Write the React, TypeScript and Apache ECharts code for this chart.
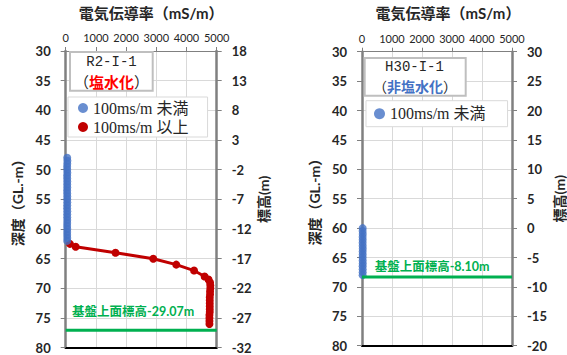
import React, { useEffect, useRef } from "react";
import * as echarts from "echarts";

// ---- data ----
const depthRange = [30, 80];
const elevRangeLeft = [-32, 18];
const elevRangeRight = [-20, 30];
const ecRange = [0, 5000];

const leftBlue = [
  [50, 48], [55, 48.5], [52, 49], [48, 49.5], [50, 50], [53, 50.5], [47, 51], [50, 51.5],
  [52, 52], [49, 52.5], [51, 53], [48, 53.5], [50, 54], [52, 54.5], [49, 55], [51, 55.5],
  [50, 56], [48, 56.5], [52, 57], [50, 57.5], [49, 58], [51, 58.5], [50, 59], [48, 59.5],
  [52, 60], [50, 60.5], [49, 61], [51, 61.5], [50, 62],
];
const leftRed = [
  [140, 62.5], [330, 63], [1650, 64], [2900, 65], [3660, 66], [4250, 67], [4600, 68],
  [4730, 68.5], [4780, 69], [4790, 69.5], [4790, 70], [4780, 70.5], [4780, 71],
  [4770, 71.5], [4770, 72], [4770, 72.5], [4770, 73], [4770, 73.5], [4770, 74],
  [4760, 74.5], [4760, 75], [4760, 75.5], [4760, 76],
];
const rightBlue = [
  [22, 60], [20, 60.5], [24, 61], [21, 61.5], [23, 62], [20, 62.5], [22, 63], [25, 63.5],
  [21, 64], [23, 64.5], [20, 65], [22, 65.5], [24, 66], [21, 66.5], [23, 67], [22, 67.5],
  [20, 68],
];
const leftBaseDepth = 77.07;
const rightBaseDepth = 68.3;
const leftBaseLabel = "基盤上面標高-29.07m";
const rightBaseLabel = "基盤上面標高-8.10m";
const nameLow = "100ms/m 未満";
const nameHigh = "100ms/m 以上";

const BLUE = "#4472C4";
const RED = "#C00000";
const GREEN = "#00B050";
const TXT = "#262626";
const SANS = "Lato, 'Noto Sans CJK JP', sans-serif";
const SERIF = "'Times New Roman', 'Liberation Serif', 'DejaVu Serif', 'Noto Sans CJK JP', serif";
const MONO = "'Liberation Mono', 'Noto Sans CJK JP', monospace";

function xTop(grid: number, titleShift: number) {
  return {
    gridIndex: grid,
    type: "value",
    position: "top",
    min: ecRange[0],
    max: ecRange[1],
    interval: 1000,
    name: "電気伝導率（mS/m）",
    nameLocation: "middle",
    nameGap: 31,
    nameTextStyle: {
      fontFamily: SANS,
      fontWeight: "bold",
      fontSize: 15,
      color: TXT,
      padding: [0, 0, 0, titleShift],
    },
    axisLine: { show: true, onZero: false, lineStyle: { color: "#808080", width: 1 } },
    axisTick: { show: true, inside: false, length: 4, lineStyle: { color: "#808080" } },
    axisLabel: {
      fontFamily: SANS,
      fontSize: 11,
      color: TXT,
      margin: 8,
      formatter: (v: number) => String(v),
    },
    splitLine: { show: true, lineStyle: { color: "#d9d9d9", width: 1 } },
  };
}
function xBottom(grid: number) {
  return {
    gridIndex: grid,
    type: "value",
    position: "bottom",
    min: ecRange[0],
    max: ecRange[1],
    axisLine: { show: true, onZero: false, lineStyle: { color: "#000", width: 2 } },
    axisTick: { show: false },
    axisLabel: { show: false },
    splitLine: { show: false },
  };
}
function yDepth(grid: number) {
  return {
    gridIndex: grid,
    type: "value",
    position: "left",
    inverse: true,
    min: depthRange[0],
    max: depthRange[1],
    interval: 5,
    name: "深度（GL.-m）",
    nameLocation: "middle",
    nameGap: 41,
    nameTextStyle: { fontFamily: SANS, fontWeight: "bold", fontSize: 14, color: TXT },
    axisLine: { show: true, onZero: false, lineStyle: { color: "#808080", width: 2.5 } },
    axisTick: { show: true, inside: false, length: 5, lineStyle: { color: "#808080" } },
    axisLabel: { fontFamily: SANS, fontWeight: "bold", fontSize: 13, color: TXT, margin: 15 },
    splitLine: { show: true, lineStyle: { color: "#d9d9d9", width: 1 } },
  };
}
function yElev(grid: number, range: number[]) {
  return {
    gridIndex: grid,
    type: "value",
    position: "right",
    min: range[0],
    max: range[1],
    interval: 5,
    name: "標高(m)",
    nameLocation: "middle",
    nameGap: 40,
    nameTextStyle: { fontFamily: SANS, fontWeight: "bold", fontSize: 14, color: TXT },
    axisLine: { show: true, onZero: false, lineStyle: { color: "#808080", width: 2.5 } },
    axisTick: { show: true, inside: false, length: 5, lineStyle: { color: "#808080" } },
    axisLabel: { fontFamily: SANS, fontWeight: "bold", fontSize: 13, color: TXT, margin: 15 },
    splitLine: { show: false },
  };
}

function textEl(x: number, y: number, text: string, font: string, fill: string, align = "center", rich?: any) {
  return {
    type: "text",
    z: 100,
    style: {
      x,
      y,
      text,
      font,
      fill,
      align,
      textAlign: align,
      verticalAlign: "middle",
      textVerticalAlign: "middle",
      rich,
    },
  };
}

export default function App() {
  const ref = useRef<HTMLDivElement>(null);
  useEffect(() => {
    if (!ref.current) return;
    const chart = echarts.init(ref.current, undefined, { renderer: "svg" });
    const richLeft = {
      a: { fontFamily: "Noto Sans CJK JP", fontSize: 15, fill: TXT },
      b: { fontFamily: "Noto Sans CJK JP", fontSize: 15, fontWeight: "bold", fill: "#FF0000" },
    };
    const richRight = {
      a: { fontFamily: "Noto Sans CJK JP", fontSize: 14, fill: TXT },
      b: { fontFamily: "Noto Sans CJK JP", fontSize: 14, fontWeight: "bold", fill: BLUE },
    };
    chart.setOption({
      animation: false,
      backgroundColor: "#fff",
      grid: [
        { left: 65.7, top: 46, width: 151, height: 301.7 },
        { left: 362, top: 51.7, width: 151, height: 294 },
      ],
      xAxis: [xTop(0, 20), xBottom(0), xTop(1, 22), xBottom(1)],
      yAxis: [yDepth(0), yElev(0, elevRangeLeft), yDepth(1), yElev(1, elevRangeRight)],
      legend: [
        {
          data: [nameLow, nameHigh],
          orient: "vertical",
          left: 68,
          top: 97,
          padding: [3, 19, 2, 10],
          itemGap: 3,
          itemWidth: 10,
          itemHeight: 10,
          icon: "circle",
          backgroundColor: "#fff",
          borderColor: "#d9d9d9",
          borderWidth: 1,
          textStyle: { fontFamily: SERIF, fontSize: 16, color: TXT },
          selectedMode: false,
          z: 50,
        },
        {
          data: [nameLow],
          orient: "vertical",
          left: 366,
          top: 100.7,
          padding: [5, 22, 5, 8],
          itemWidth: 11,
          itemHeight: 11,
          icon: "circle",
          backgroundColor: "#fff",
          borderColor: "#d9d9d9",
          borderWidth: 1,
          textStyle: { fontFamily: SERIF, fontSize: 16, color: TXT },
          selectedMode: false,
          z: 50,
        },
      ],
      series: [
        {
          name: nameHigh,
          type: "line",
          xAxisIndex: 0,
          yAxisIndex: 0,
          data: leftRed,
          symbol: "circle",
          symbolSize: 8,
          itemStyle: { color: RED },
          lineStyle: { color: RED, width: 3 },
          z: 3,
        },
        {
          name: nameLow,
          type: "scatter",
          xAxisIndex: 0,
          yAxisIndex: 0,
          data: leftBlue,
          symbol: "circle",
          symbolSize: 8,
          itemStyle: { color: BLUE },
          z: 4,
        },
        {
          name: "base-left",
          type: "line",
          xAxisIndex: 0,
          yAxisIndex: 0,
          data: [[ecRange[0], leftBaseDepth], [ecRange[1], leftBaseDepth]],
          symbol: "none",
          lineStyle: { color: GREEN, width: 3 },
          z: 5,
        },
        {
          name: nameLow,
          type: "scatter",
          xAxisIndex: 2,
          yAxisIndex: 2,
          data: rightBlue,
          symbol: "circle",
          symbolSize: 8,
          itemStyle: { color: BLUE },
          z: 4,
        },
        {
          name: "base-right",
          type: "line",
          xAxisIndex: 2,
          yAxisIndex: 2,
          data: [[ecRange[0], rightBaseDepth], [ecRange[1], rightBaseDepth]],
          symbol: "none",
          lineStyle: { color: GREEN, width: 3 },
          z: 5,
        },
      ],
      graphic: [
        {
          type: "rect",
          z: 90,
          shape: { x: 70, y: 52, width: 82.7, height: 38.7 },
          style: { fill: "#fff", stroke: "#BFBFBF", lineWidth: 2 },
        },
        textEl(111.5, 62, "R2-I-1", `14px ${MONO}`, TXT),
        textEl(111.5, 81, "{a|（}{b|塩水化}{a|）}", `15px ${SANS}`, TXT, "center", richLeft),
        {
          type: "rect",
          z: 90,
          shape: { x: 364.7, y: 58, width: 101, height: 37.7 },
          style: { fill: "#fff", stroke: "#BFBFBF", lineWidth: 2 },
        },
        textEl(414.5, 67, "H30-I-1", `14px ${MONO}`, TXT),
        textEl(415, 86, "{a|（}{b|非塩水化}{a|）}", `14px ${SANS}`, TXT, "center", richRight),
        textEl(72, 311.7, leftBaseLabel, `bold 12.5px ${SANS}`, GREEN, "left"),
        textEl(374.7, 266.7, rightBaseLabel, `bold 12.5px ${SANS}`, GREEN, "left"),
      ],
    });
    return () => chart.dispose();
  }, []);
  return (
    <div
      ref={ref}
      style={{ position: "absolute", left: 0, top: 0, width: 567, height: 355 }}
    />
  );
}
